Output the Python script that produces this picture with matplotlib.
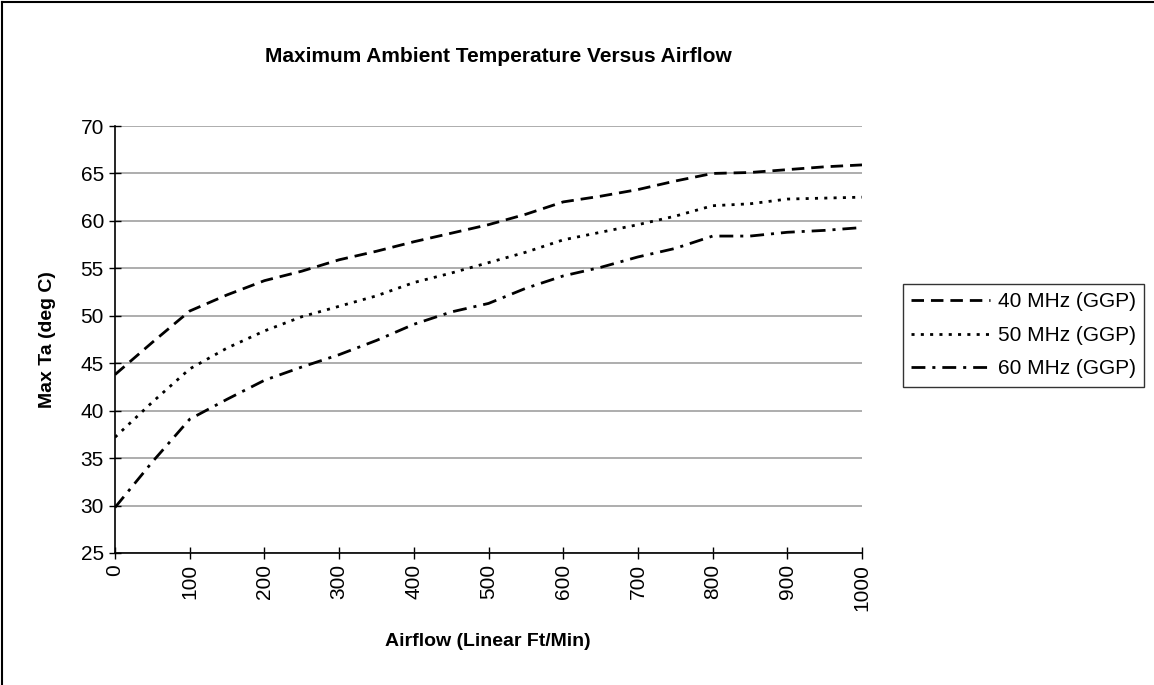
import numpy as np
import matplotlib
matplotlib.use("Agg")
import matplotlib.pyplot as plt
from matplotlib.lines import Line2D

airflow = [0, 50, 100, 150, 200, 250, 300, 350, 400, 450, 500,
           550, 600, 650, 700, 750, 800, 850, 900, 950, 1000]
ta40 = [43.8, 47.2, 50.5, 52.2, 53.7, 54.7, 55.9, 56.8, 57.8, 58.7, 59.6,
        60.7, 62.0, 62.6, 63.3, 64.2, 65.0, 65.1, 65.4, 65.7, 65.9]
ta50 = [37.2, 40.9, 44.4, 46.6, 48.4, 49.9, 51.0, 52.1, 53.5, 54.5, 55.6,
        56.7, 58.0, 58.8, 59.6, 60.5, 61.6, 61.8, 62.3, 62.4, 62.5]
ta60 = [29.8, 34.6, 39.1, 41.2, 43.2, 44.6, 45.9, 47.4, 49.1, 50.4, 51.3,
        52.9, 54.2, 55.1, 56.2, 57.1, 58.4, 58.4, 58.8, 59.0, 59.3]
labels = ["40 MHz (GGP)", "50 MHz (GGP)", "60 MHz (GGP)"]

xticks = list(range(0, 1001, 100))
yticks = list(range(25, 71, 5))

plt.rcParams['font.family'] = ['Liberation Sans', 'DejaVu Sans']
plt.rcParams['lines.scale_dashes'] = False

W, H = 1154, 685
fig = plt.figure(figsize=(W / 100, H / 100), dpi=100)
fig.patch.set_facecolor('white')

# plot area in pixels: x 115..862, y 126..553
ax = fig.add_axes([115 / W, 1 - 553 / H, (862 - 115) / W, (553 - 126) / H])

styles = [(0, (9, 5)), (0, (2.2, 4.5)), (0, (10, 5, 2.2, 5))]
for ys, lab, ls in zip([ta40, ta50, ta60], labels, styles):
    ax.plot(airflow, ys, color='black', lw=2.0, linestyle=ls, label=lab,
            solid_capstyle='butt', dash_capstyle='butt')

ax.set_xlim(0, 1000)
ax.set_ylim(25, 70)
ax.set_xticks(xticks)
ax.set_yticks(yticks)
ax.set_xticklabels([str(v) for v in xticks], rotation=90)
ax.tick_params(direction='inout', length=8, width=1, labelsize=15, pad=4)
ax.yaxis.grid(True, color='#a0a0a0', lw=1.2)
ax.set_axisbelow(True)
for s in ['top', 'right']:
    ax.spines[s].set_visible(False)
for s in ['left', 'bottom']:
    ax.spines[s].set_linewidth(1.2)

fig.text(498 / W, 1 - 57 / H, "Maximum Ambient Temperature Versus Airflow",
         ha='center', va='center', fontsize=15, fontweight='bold')
fig.text(47 / W, 1 - 340 / H, "Max Ta (deg C)", ha='center', va='center',
         rotation=90, fontsize=14, fontweight='bold')
fig.text(488 / W, 1 - 642 / H, "Airflow (Linear Ft/Min)", ha='center',
         va='center', fontsize=14, fontweight='bold')

leg = ax.legend(loc='upper left', bbox_to_anchor=(903 / W, 1 - 284 / H),
                bbox_transform=fig.transFigure, fontsize=15, frameon=True,
                fancybox=False, handlelength=3.8, handletextpad=0.35,
                borderpad=0.4, labelspacing=0.7, borderaxespad=0)
leg.get_frame().set_edgecolor('black')
leg.get_frame().set_linewidth(1)

# chart border on the top and left edges
fig.add_artist(Line2D([2 / W, 2 / W], [0, 1 - 2 / H], transform=fig.transFigure,
                      color='black', lw=1.5))
fig.add_artist(Line2D([2 / W, 1], [1 - 2 / H, 1 - 2 / H], transform=fig.transFigure,
                      color='black', lw=1.5))

fig.savefig("out.png", dpi=100)
